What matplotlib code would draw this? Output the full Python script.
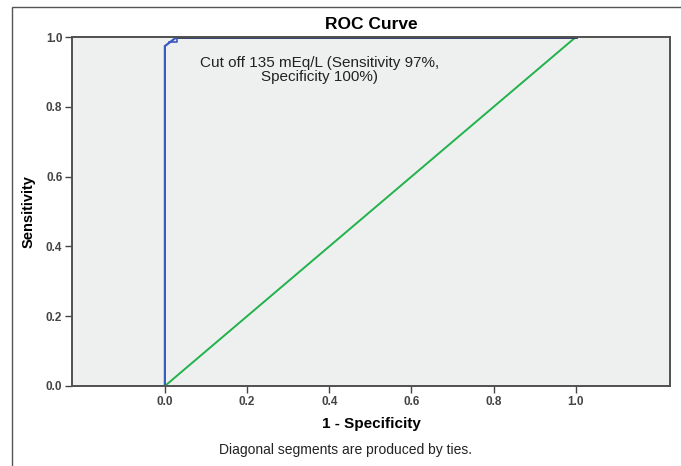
import matplotlib.pyplot as plt
from matplotlib.patches import Rectangle

plt.rcParams["font.family"] = ["Liberation Sans", "DejaVu Sans"]

# ROC curve (1 - specificity, sensitivity)
fpr = [0.0, 0.0, 0.029, 1.0]
tpr = [0.0, 0.974, 1.0, 1.0]
# little tie triangle near the top-left corner
tie_x = [0.029, 0.029, 0.011]
tie_y = [1.0, 0.986, 0.986]
# reference diagonal
ref_x = [0.0, 1.0]
ref_y = [0.0, 1.0]

ticks = [0.0, 0.2, 0.4, 0.6, 0.8, 1.0]
tick_labels = ["0.0", "0.2", "0.4", "0.6", "0.8", "1.0"]

fig = plt.figure(figsize=(6.81, 4.66), dpi=100)
fig.patches.append(Rectangle((12 / 681, -0.1), 1.2, 1.1 - 7 / 466, transform=fig.transFigure,
                             fill=False, edgecolor="#555555", lw=1.0))
ax = fig.add_axes([72 / 681, 1 - 386 / 466, (670 - 72) / 681, (386 - 37) / 466])
ax.set_facecolor("#eef0ef")

ax.plot(ref_x, ref_y, color="#21b24b", lw=1.4)
ax.plot(fpr[:3], tpr[:3], color="#3a5bbf", lw=1.6, solid_joinstyle="miter")
ax.plot(fpr[2:], tpr[2:], color="#26325e", lw=2.0)
ax.plot(tie_x, tie_y, color="#3a5bbf", lw=1.2)

ax.set_xlim(-0.226, 1.229)
ax.set_ylim(0.0, 1.0)
ax.set_xticks(ticks)
ax.set_xticklabels(tick_labels)
ax.set_yticks(ticks)
ax.set_yticklabels(tick_labels)
ax.tick_params(direction="out", length=5, width=1, color="#444444",
               labelsize=8.5, labelcolor="#444444", pad=2)
for lab in ax.get_xticklabels() + ax.get_yticklabels():
    lab.set_fontweight("bold")
for s in ax.spines.values():
    s.set_color("#505050")
    s.set_linewidth(1.4)

ax.text(0.377, 0.905, "Cut off 135 mEq/L (Sensitivity 97%,\nSpecificity 100%)",
        ha="center", va="center", fontsize=11, color="#222222", linespacing=1.0)

ax.set_title("ROC Curve", fontsize=12.5, fontweight="bold", pad=6)
ax.set_xlabel("1 - Specificity", fontsize=11, fontweight="bold", labelpad=7)
ax.set_ylabel("Sensitivity", fontsize=10.5, fontweight="bold", labelpad=7)
fig.text(345 / 681, 1 - 450 / 466, "Diagonal segments are produced by ties.",
         ha="center", va="center", fontsize=10, color="#222222")

fig.savefig("out.png", dpi=100)
